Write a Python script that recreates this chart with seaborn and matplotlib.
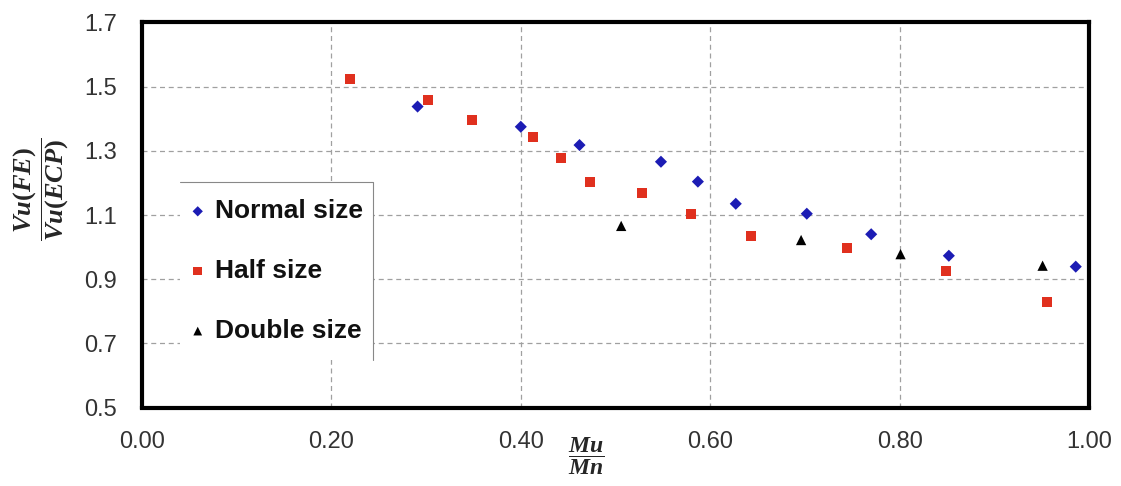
import matplotlib
matplotlib.use("Agg")
import matplotlib.pyplot as plt
import seaborn as sns
import pandas as pd
from matplotlib.patches import Rectangle
from matplotlib.lines import Line2D

# ---- data ----
normal_x = [0.291, 0.400, 0.462, 0.548, 0.587, 0.627, 0.702, 0.770, 0.852, 0.986]
normal_y = [1.438, 1.375, 1.318, 1.266, 1.204, 1.135, 1.104, 1.040, 0.973, 0.939]
half_x = [0.220, 0.302, 0.348, 0.413, 0.442, 0.473, 0.528, 0.580, 0.643, 0.744, 0.849, 0.956]
half_y = [1.523, 1.459, 1.396, 1.344, 1.279, 1.202, 1.169, 1.104, 1.035, 0.998, 0.924, 0.828]
double_x = [0.506, 0.696, 0.801, 0.951]
double_y = [1.066, 1.022, 0.978, 0.942]
series_names = ["Normal size", "Half size", "Double size"]
x_ticks = [0.0, 0.2, 0.4, 0.6, 0.8, 1.0]
y_ticks = [0.5, 0.7, 0.9, 1.1, 1.3, 1.5, 1.7]

sns.set_theme(style="white")
plt.rcParams["font.family"] = ["Liberation Sans", "DejaVu Sans"]
plt.rcParams["mathtext.fontset"] = "custom"
plt.rcParams["mathtext.it"] = "Liberation Serif:italic:bold"
plt.rcParams["mathtext.rm"] = "Liberation Serif:bold"
plt.rcParams["mathtext.bf"] = "Liberation Serif:bold"

fig = plt.figure(figsize=(11.21, 4.86), dpi=100)
ax = fig.add_axes([142 / 1121, 1 - 407.5 / 486, (1089 - 142) / 1121, (407.5 - 22.5) / 486])

colors = {"Normal size": "#1c1cb4", "Half size": "#e0301e", "Double size": "#000000"}
markers = {"Normal size": "D", "Half size": "s", "Double size": "^"}
sizes = {"Normal size": 38, "Half size": 52, "Double size": 55}
data = {"Normal size": (normal_x, normal_y), "Half size": (half_x, half_y),
        "Double size": (double_x, double_y)}

for name in series_names:
    xs, ys = data[name]
    df = pd.DataFrame({"x": xs, "y": ys})
    sns.scatterplot(data=df, x="x", y="y", ax=ax, color=colors[name],
                    marker=markers[name], s=sizes[name], edgecolor="none",
                    linewidth=0, zorder=5, label=name)

ax.set_xlim(0, 1.0)
ax.set_ylim(0.5, 1.7)
ax.set_xticks(x_ticks)
ax.set_yticks(y_ticks)
ax.set_xticklabels([f"{v:.2f}" for v in x_ticks])
ax.set_yticklabels([f"{v:.1f}" for v in y_ticks])
ax.tick_params(axis="both", length=0, labelsize=17, colors="#333333")
ax.tick_params(axis="y", pad=18)
ax.tick_params(axis="x", pad=17)
ax.set_xlabel("")
ax.set_ylabel("")

ax.grid(True, linestyle=(0, (4, 3)), color="#a0a0a0", linewidth=0.9)
ax.set_axisbelow(True)
for sp in ax.spines.values():
    sp.set_visible(True)
    sp.set_color("black")
    sp.set_linewidth(3)

# legend background and partial border
lx0, lx1 = (180 - 142) / 947, (373 - 142) / 947
ly0, ly1 = (407.5 - 360) / 385, (407.5 - 181.7) / 385
ax.add_patch(Rectangle((lx0, ly0), lx1 - lx0, ly1 - ly0, transform=ax.transAxes,
                       facecolor="white", edgecolor="none", zorder=3))
ax.add_line(Line2D([lx0, lx1, lx1], [ly1, ly1, ly0], transform=ax.transAxes,
                   color="#888888", linewidth=0.8, zorder=3.5))

leg = ax.legend(loc="upper left", bbox_to_anchor=(lx0 + 0.002, ly1 - 0.025),
                frameon=False, prop={"weight": "bold", "size": 19},
                handlelength=0.6, handletextpad=0.35, labelspacing=1.36,
                markerscale=0.85, borderaxespad=0, borderpad=0.3)
leg.set_zorder(6)
for t in leg.get_texts():
    t.set_color("#111111")

fig.text(41 / 1121, 1 - 189 / 486, r"$\dfrac{Vu(FE)}{Vu(ECP)}$", rotation=90,
         ha="center", va="center", fontsize=19)
fig.text(586 / 1121, 1 - 456 / 486, r"$\dfrac{Mu}{Mn}$",
         ha="center", va="center", fontsize=17)

fig.savefig("out.png", dpi=100)
